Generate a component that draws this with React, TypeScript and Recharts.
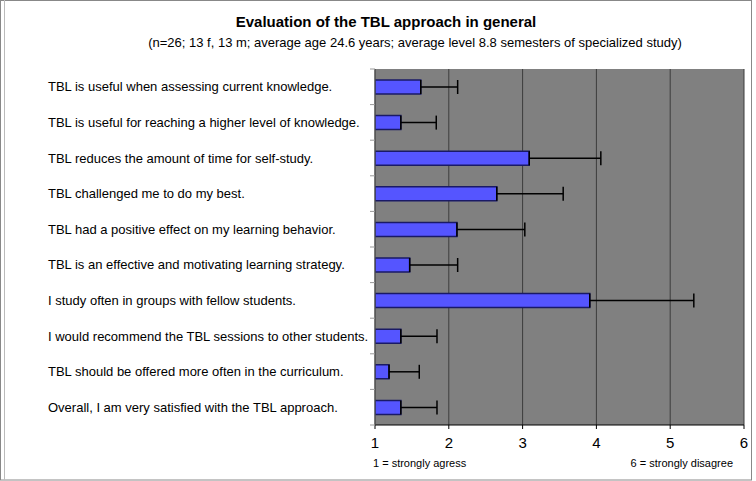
import React from "react";
import { BarChart, Bar, XAxis, YAxis, CartesianGrid, ErrorBar } from "recharts";

const categories = [
  "TBL is useful when assessing current knowledge.",
  "TBL is useful for reaching a higher level of knowledge.",
  "TBL reduces the amount of time for self-study.",
  "TBL challenged me to do my best.",
  "TBL had a positive effect on my learning behavior.",
  "TBL is an effective and motivating learning strategy.",
  "I study often in groups with fellow students.",
  "I would recommend the TBL sessions to other students.",
  "TBL should be offered more often in the curriculum.",
  "Overall, I am very satisfied with the TBL approach.",
];
const means = [1.62, 1.35, 3.09, 2.65, 2.11, 1.47, 3.91, 1.35, 1.19, 1.35];
const sds = [0.5, 0.48, 0.97, 0.9, 0.92, 0.65, 1.41, 0.49, 0.41, 0.49];
const xTicks = [1, 2, 3, 4, 5, 6];

const data = categories.map((c, i) => ({ name: c, mean: means[i], err: [0, sds[i]] }));

const W = 756;
const H = 481;
const X_AXIS_H = 30;
const M = { top: 69, right: 12, bottom: 56 - X_AXIS_H, left: 0 };
const AXIS_W = 375;
const band = (H - 69 - 56) / categories.length;
const FONT = "'Liberation Sans', Arial, Helvetica, sans-serif";

const YTick = (props: any) => {
  const { y, payload, index } = props;
  return (
    <g>
      <text x={48} y={y} dy={4.5} fontSize={13} fontFamily={FONT} fill="#000" textAnchor="start">
        {payload.value}
      </text>
      <line x1={370} x2={375} y1={y - band / 2} y2={y - band / 2} stroke="#999" />
      {index === categories.length - 1 && (
        <line x1={370} x2={375} y1={y + band / 2} y2={y + band / 2} stroke="#999" />
      )}
    </g>
  );
};

export default function App() {
  return (
    <div style={{ position: "absolute", left: 0, top: 0, width: W, height: H, background: "#fff" }}>
      <BarChart width={W} height={H} data={data} layout="vertical" margin={M}>
        <rect x={0.5} y={0.5} width={751} height={479.5} fill="none" stroke="#888" />
        <line x1={4.5} x2={4.5} y1={0} y2={480} stroke="#bbb" />
        <text x={386} y={27} textAnchor="middle" fontSize={15} fontWeight="bold" fontFamily={FONT} fill="#000">
          Evaluation of the TBL approach in general
        </text>
        <text x={415} y={47} textAnchor="middle" fontSize={13} fontFamily={FONT} fill="#000">
          (n=26; 13 f, 13 m; average age 24.6 years; average level 8.8 semesters of specialized study)
        </text>
        <text x={373} y={467} textAnchor="start" fontSize={11} fontFamily={FONT} fill="#000">
          1 = strongly agress
        </text>
        <text x={733} y={467} textAnchor="end" fontSize={11} fontFamily={FONT} fill="#000">
          6 = strongly disagree
        </text>
        <CartesianGrid horizontal={false} vertical={true} fill="#808080" stroke="#3c3c3c" strokeOpacity={1} />
        <XAxis
          type="number"
          domain={[1, 6]}
          ticks={xTicks}
          interval={0}
          allowDataOverflow
          height={X_AXIS_H}
          axisLine={{ stroke: "#000" }}
          tickLine={{ stroke: "#000" }}
          tickSize={4}
          tickMargin={8}
          tick={{ fontSize: 15, fill: "#000", fontFamily: FONT }}
        />
        <YAxis
          type="category"
          dataKey="name"
          width={AXIS_W}
          axisLine={{ stroke: "#555" }}
          tickLine={false}
          interval={0}
          tick={<YTick />}
        />
        <Bar dataKey="mean" fill="#5555ff" stroke="#1a1a66" strokeWidth={1.5} barSize={14} isAnimationActive={false}>
          <ErrorBar dataKey="err" direction="x" width={7} stroke="#000" strokeWidth={1.5} isAnimationActive={false} />
        </Bar>
      </BarChart>
    </div>
  );
}
